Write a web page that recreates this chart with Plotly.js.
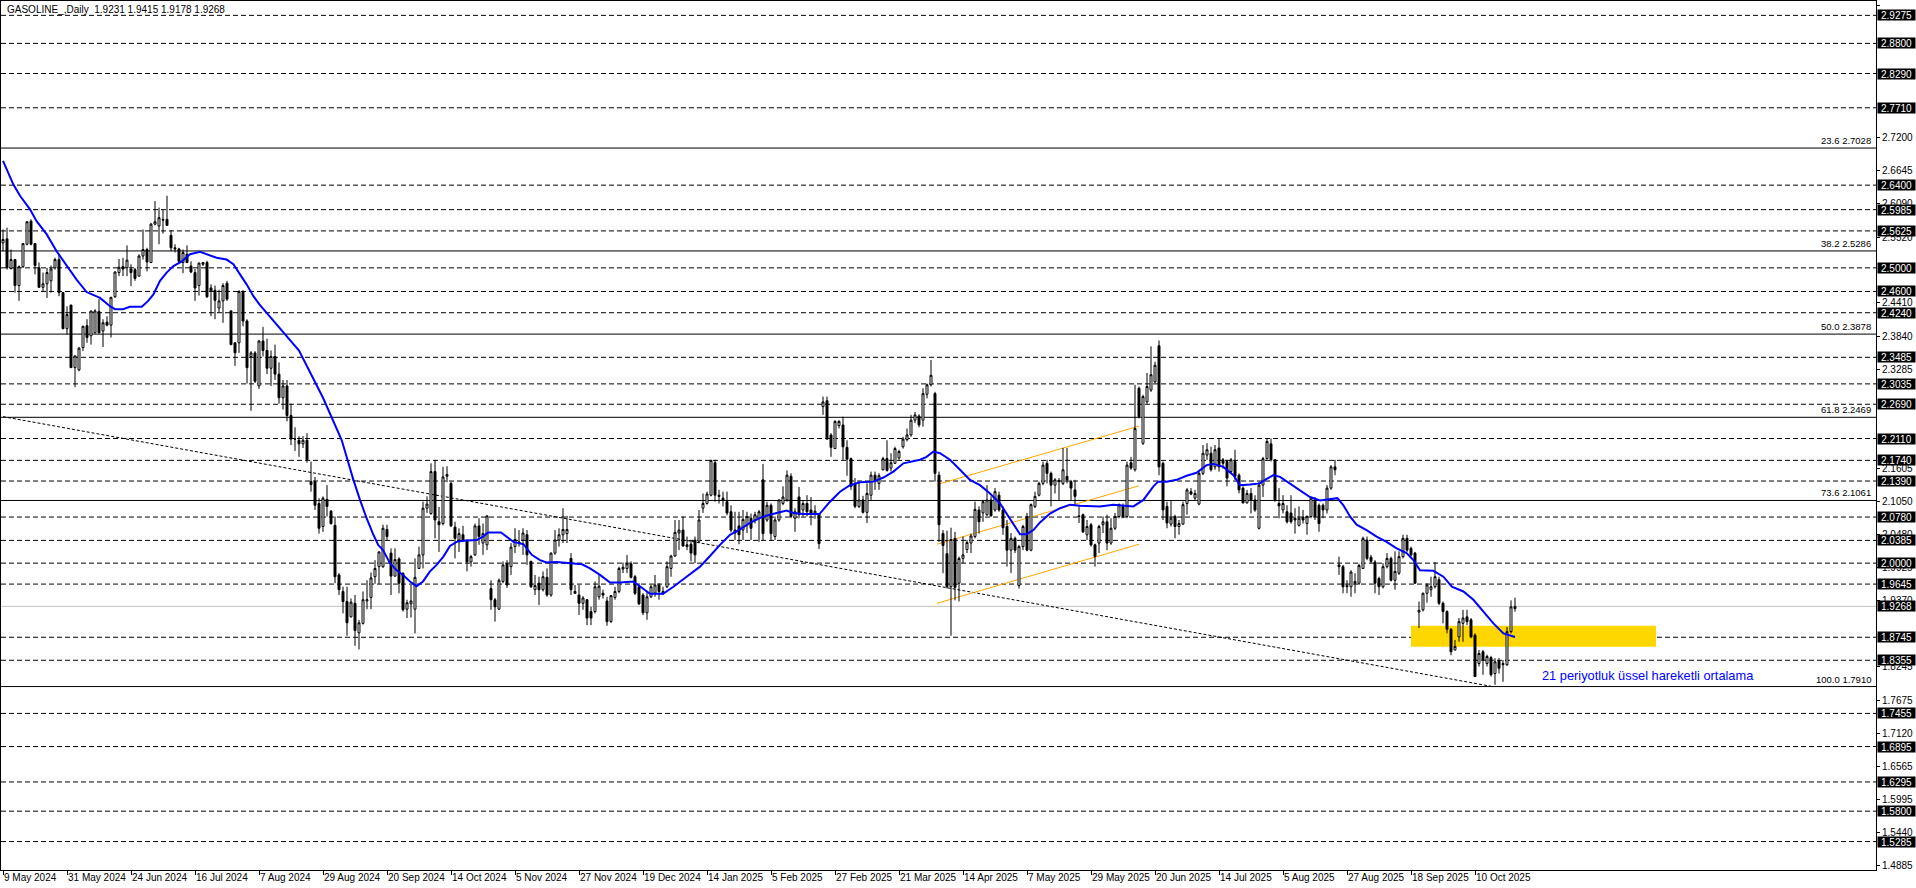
<!DOCTYPE html>
<html><head><meta charset="utf-8">
<script src="https://cdn.plot.ly/plotly-3.0.1.min.js"></script>
<style>html,body{margin:0;padding:0;background:#fff;overflow:hidden}#chart{width:1916px;height:888px}</style>
</head><body><div id="chart"></div>
<script>
const symbolName = "GASOLINE_";
const timeframe = "Daily";

const opens = [
2.542,2.549,2.499,2.514,2.470,2.502,2.540,2.579,2.541,2.500,
2.467,2.473,2.478,2.500,2.514,2.458,2.397,2.437,2.331,2.327,
2.365,2.402,2.385,2.390,2.426,2.393,2.408,2.403,2.451,2.492,
2.502,2.500,2.498,2.497,2.486,2.520,2.531,2.509,2.574,2.571,
2.582,2.582,2.555,2.534,2.532,2.509,2.523,2.503,2.492,2.470,
2.506,2.509,2.466,2.462,2.432,2.444,2.474,2.427,2.373,2.373,
2.460,2.410,2.350,2.356,2.300,2.376,2.360,2.330,2.350,2.320,
2.280,2.300,2.250,2.210,2.208,2.202,2.208,2.138,2.138,2.101,
2.062,2.108,2.088,2.064,1.980,1.952,1.935,1.909,1.932,1.882,
1.898,1.936,1.942,1.977,1.994,1.994,2.057,2.017,1.978,2.007,
1.983,1.922,1.931,1.922,1.991,2.014,2.093,2.084,2.155,2.070,
2.067,2.147,2.135,2.061,2.039,2.048,2.039,2.002,2.014,2.063,
2.034,2.031,1.957,1.938,1.922,1.969,1.999,1.994,2.028,2.036,
2.039,2.048,2.003,1.955,1.966,1.955,1.976,1.946,2.017,2.039,
2.048,2.050,2.008,1.952,1.946,1.932,1.938,1.918,1.918,1.943,
1.949,1.936,1.901,1.942,1.952,1.990,1.991,1.999,1.977,1.960,
1.946,1.916,1.943,1.949,1.963,1.949,1.960,1.991,2.012,2.051,
2.056,2.031,2.032,2.039,2.037,2.093,2.101,2.115,2.170,2.115,
2.110,2.104,2.087,2.051,2.063,2.056,2.065,2.076,2.073,2.076,
2.141,2.073,2.098,2.045,2.073,2.101,2.107,2.147,2.076,2.112,
2.090,2.101,2.090,2.084,2.084,2.265,2.275,2.217,2.194,2.233,
2.234,2.196,2.177,2.134,2.096,2.107,2.086,2.115,2.149,2.135,
2.158,2.177,2.161,2.169,2.178,2.197,2.209,2.217,2.242,2.249,
2.242,2.286,2.302,2.287,2.149,2.050,2.016,1.960,2.042,1.966,
2.008,2.023,2.034,2.045,2.090,2.085,2.082,2.107,2.090,2.115,
2.090,2.062,2.022,2.042,1.962,2.028,2.079,2.022,2.096,2.115,
2.135,2.169,2.152,2.132,2.140,2.135,2.147,2.138,2.124,2.080,
2.082,2.048,2.065,2.031,2.034,2.065,2.070,2.034,2.059,2.079,
2.096,2.079,2.170,2.158,2.296,2.203,2.273,2.293,2.307,2.368,
2.169,2.096,2.066,2.079,2.062,2.066,2.101,2.121,2.110,2.100,
2.152,2.183,2.186,2.163,2.195,2.175,2.172,2.155,2.172,2.149,
2.127,2.102,2.118,2.107,2.059,2.132,2.177,2.202,2.175,2.101,
2.090,2.087,2.085,2.076,2.064,2.078,2.067,2.079,2.107,2.098,
2.098,2.090,2.127,2.163,1.994,1.994,1.962,1.960,1.966,1.966,
1.991,2.039,2.010,2.002,1.974,1.960,1.994,2.008,1.971,1.983,
2.011,2.042,2.025,2.017,1.917,1.921,1.949,1.955,1.960,1.972,
1.932,1.918,1.888,1.853,1.875,1.898,1.909,1.904,1.878,1.830,
1.850,1.830,1.840,1.813,1.835,1.830,1.828,1.884,1.9231];

const highs = [
2.565,2.568,2.531,2.514,2.504,2.542,2.579,2.582,2.542,2.509,
2.492,2.500,2.504,2.517,2.523,2.459,2.435,2.437,2.351,2.366,
2.402,2.413,2.427,2.430,2.447,2.413,2.418,2.451,2.494,2.515,
2.517,2.538,2.506,2.500,2.523,2.565,2.534,2.576,2.613,2.602,
2.598,2.622,2.564,2.540,2.534,2.531,2.538,2.511,2.498,2.509,
2.509,2.512,2.472,2.470,2.463,2.474,2.478,2.428,2.374,2.462,
2.462,2.413,2.359,2.359,2.378,2.400,2.380,2.360,2.370,2.340,
2.310,2.310,2.270,2.230,2.215,2.215,2.220,2.172,2.146,2.110,
2.113,2.132,2.090,2.079,1.983,1.960,1.960,1.940,1.946,1.904,
1.952,1.971,1.984,2.005,2.020,2.065,2.065,2.025,2.025,2.010,
1.984,1.938,1.963,2.008,2.028,2.104,2.113,2.169,2.175,2.095,
2.163,2.164,2.138,2.070,2.059,2.063,2.039,2.014,2.067,2.076,
2.067,2.081,1.971,1.941,1.974,2.003,2.005,2.034,2.059,2.056,
2.059,2.056,2.004,1.980,1.977,1.986,1.991,2.018,2.056,2.059,
2.093,2.080,2.017,1.963,1.963,1.944,1.939,1.926,1.969,1.980,
1.955,1.943,1.946,1.960,1.994,2.001,2.014,2.003,1.980,1.966,
1.949,1.952,1.963,1.980,1.966,1.960,2.003,2.014,2.073,2.073,
2.079,2.045,2.039,2.045,2.090,2.118,2.121,2.175,2.175,2.124,
2.121,2.121,2.098,2.087,2.087,2.090,2.087,2.084,2.087,2.090,
2.168,2.104,2.101,2.079,2.108,2.130,2.157,2.152,2.093,2.129,
2.107,2.115,2.112,2.098,2.084,2.282,2.282,2.220,2.242,2.242,
2.248,2.208,2.179,2.144,2.138,2.114,2.135,2.155,2.155,2.152,
2.180,2.208,2.186,2.197,2.192,2.214,2.228,2.251,2.256,2.252,
2.296,2.304,2.344,2.290,2.155,2.056,2.055,2.060,2.053,2.011,
2.045,2.039,2.050,2.104,2.096,2.107,2.132,2.113,2.127,2.121,
2.096,2.073,2.051,2.045,2.031,2.065,2.085,2.101,2.121,2.138,
2.172,2.175,2.155,2.144,2.144,2.195,2.195,2.141,2.141,2.096,
2.084,2.073,2.068,2.033,2.065,2.079,2.082,2.076,2.085,2.101,
2.101,2.172,2.180,2.302,2.299,2.285,2.322,2.367,2.341,2.377,
2.172,2.104,2.107,2.082,2.073,2.104,2.127,2.127,2.124,2.155,
2.200,2.203,2.197,2.200,2.211,2.178,2.175,2.178,2.192,2.152,
2.130,2.124,2.127,2.115,2.138,2.180,2.211,2.211,2.176,2.127,
2.115,2.098,2.115,2.093,2.096,2.090,2.081,2.112,2.112,2.101,
2.101,2.132,2.166,2.175,2.011,1.997,1.971,1.988,1.983,1.999,
2.045,2.045,2.014,2.005,1.977,2.000,2.017,2.011,2.020,2.020,
2.048,2.048,2.028,2.019,1.935,1.950,1.966,1.977,2.002,1.977,
1.935,1.920,1.890,1.870,1.907,1.921,1.921,1.907,1.881,1.853,
1.853,1.845,1.843,1.839,1.839,1.836,1.892,1.937,1.9415];

const lows = [
2.528,2.497,2.497,2.458,2.444,2.500,2.538,2.538,2.489,2.467,
2.460,2.449,2.458,2.497,2.452,2.396,2.387,2.331,2.298,2.325,
2.359,2.373,2.370,2.389,2.389,2.366,2.401,2.382,2.449,2.486,
2.486,2.486,2.469,2.478,2.485,2.514,2.494,2.508,2.572,2.540,
2.558,2.571,2.528,2.526,2.508,2.491,2.508,2.491,2.444,2.453,
2.503,2.449,2.418,2.413,2.424,2.407,2.444,2.369,2.334,2.356,
2.401,2.304,2.258,2.305,2.295,2.350,2.320,2.300,2.310,2.270,
2.260,2.240,2.200,2.190,2.180,2.195,2.170,2.121,2.090,2.050,
2.053,2.079,2.065,1.966,1.946,1.915,1.877,1.908,1.860,1.854,
1.896,1.922,1.922,1.965,1.965,1.992,2.039,1.946,1.977,1.949,
1.918,1.907,1.908,1.881,1.990,1.991,2.085,2.082,2.042,2.019,
2.064,2.137,2.061,2.008,2.019,2.036,1.986,1.994,2.012,2.031,
2.014,2.022,1.921,1.901,1.921,1.966,1.958,1.980,2.017,2.028,
2.014,1.997,1.958,1.946,1.929,1.952,1.943,1.943,2.014,2.028,
2.034,2.034,1.946,1.948,1.912,1.921,1.895,1.895,1.915,1.938,
1.940,1.894,1.899,1.938,1.949,1.983,1.983,1.974,1.946,1.929,
1.912,1.904,1.941,1.943,1.938,1.946,1.958,1.977,2.011,2.022,
2.028,2.022,2.003,2.000,2.034,2.085,2.099,2.113,2.104,2.101,
2.096,2.081,2.052,2.039,2.032,2.039,2.051,2.039,2.067,2.036,
2.039,2.070,2.039,2.039,2.070,2.098,2.104,2.076,2.053,2.076,
2.079,2.079,2.064,2.075,2.024,2.251,2.209,2.180,2.193,2.228,
2.175,2.148,2.124,2.093,2.093,2.084,2.068,2.107,2.124,2.124,
2.157,2.155,2.155,2.168,2.175,2.194,2.206,2.214,2.237,2.230,
2.231,2.279,2.299,2.138,2.036,1.983,1.957,1.877,1.937,1.935,
2.000,2.017,2.017,2.042,2.050,2.070,2.080,2.079,2.087,2.087,
2.048,1.994,1.983,2.017,1.957,2.022,2.020,2.020,2.093,2.113,
2.132,2.135,2.096,2.118,2.107,2.132,2.135,2.107,2.099,2.068,
2.051,2.039,2.028,1.994,2.017,2.051,2.022,2.031,2.056,2.076,
2.076,2.076,2.158,2.155,2.245,2.200,2.270,2.290,2.305,2.149,
2.073,2.059,2.062,2.042,2.048,2.065,2.082,2.115,2.107,2.098,
2.149,2.175,2.155,2.158,2.155,2.160,2.130,2.152,2.141,2.118,
2.101,2.101,2.084,2.087,2.057,2.112,2.175,2.172,2.104,2.076,
2.084,2.067,2.067,2.050,2.062,2.067,2.048,2.076,2.073,2.053,
2.076,2.084,2.124,2.149,1.980,1.949,1.949,1.943,1.949,1.963,
1.990,2.005,2.000,1.949,1.946,1.957,1.991,1.969,1.955,1.980,
2.008,2.019,2.011,1.965,1.890,1.918,1.933,1.943,1.957,1.929,
1.898,1.881,1.844,1.852,1.867,1.867,1.895,1.873,1.807,1.825,
1.811,1.825,1.808,1.794,1.813,1.799,1.826,1.881,1.9178];

const closes = [
2.548,2.500,2.514,2.470,2.502,2.541,2.578,2.540,2.504,2.467,
2.473,2.492,2.498,2.514,2.458,2.397,2.421,2.331,2.351,2.364,
2.401,2.382,2.427,2.427,2.390,2.407,2.403,2.450,2.493,2.501,
2.498,2.513,2.492,2.482,2.520,2.531,2.510,2.574,2.578,2.585,
2.581,2.572,2.534,2.532,2.511,2.526,2.509,2.493,2.466,2.508,
2.509,2.451,2.461,2.445,2.444,2.470,2.447,2.370,2.356,2.460,
2.410,2.331,2.356,2.308,2.376,2.360,2.330,2.350,2.320,2.280,
2.300,2.250,2.210,2.210,2.202,2.208,2.175,2.133,2.098,2.059,
2.110,2.096,2.067,1.977,1.955,1.935,1.899,1.934,1.886,1.899,
1.938,1.938,1.975,1.991,2.019,2.059,2.045,1.978,2.006,1.966,
1.921,1.933,1.936,1.976,2.014,2.093,2.100,2.155,2.073,2.065,
2.146,2.150,2.063,2.042,2.050,2.039,2.002,2.011,2.063,2.045,
2.050,2.080,1.938,1.926,1.971,1.997,1.963,2.027,2.040,2.034,
2.051,2.014,1.960,1.962,1.955,1.977,1.946,2.017,2.039,2.048,
2.057,2.057,1.955,1.949,1.932,1.941,1.907,1.907,1.960,1.961,
1.946,1.901,1.945,1.952,1.991,1.993,1.999,1.976,1.949,1.931,
1.916,1.943,1.960,1.963,1.952,1.952,1.994,2.012,2.052,2.056,
2.029,2.028,2.017,2.014,2.073,2.101,2.117,2.174,2.115,2.113,
2.107,2.085,2.056,2.056,2.048,2.074,2.079,2.059,2.082,2.087,
2.050,2.098,2.050,2.073,2.107,2.112,2.149,2.079,2.087,2.082,
2.101,2.087,2.084,2.088,2.033,2.273,2.210,2.196,2.240,2.240,
2.197,2.176,2.130,2.096,2.107,2.086,2.118,2.149,2.141,2.148,
2.177,2.157,2.170,2.194,2.189,2.210,2.217,2.242,2.251,2.234,
2.287,2.302,2.318,2.152,2.065,2.030,1.960,2.040,1.959,2.008,
2.014,2.035,2.046,2.091,2.070,2.104,2.107,2.080,2.121,2.090,
2.060,2.022,2.042,2.022,2.028,2.062,2.022,2.099,2.113,2.135,
2.166,2.152,2.132,2.141,2.138,2.158,2.141,2.127,2.113,2.079,
2.053,2.062,2.031,2.011,2.062,2.070,2.034,2.059,2.079,2.099,
2.079,2.166,2.161,2.228,2.248,2.282,2.299,2.319,2.335,2.163,
2.090,2.068,2.076,2.062,2.067,2.099,2.124,2.117,2.118,2.152,
2.186,2.192,2.158,2.192,2.163,2.169,2.144,2.175,2.147,2.124,
2.102,2.118,2.107,2.090,2.132,2.177,2.206,2.175,2.107,2.097,
2.101,2.070,2.070,2.073,2.076,2.073,2.079,2.110,2.079,2.067,
2.090,2.127,2.163,2.158,1.997,1.960,1.960,1.985,1.969,1.996,
2.042,2.008,2.003,1.966,1.960,1.994,2.008,1.971,1.986,2.011,
2.042,2.022,2.014,1.966,1.920,1.949,1.963,1.960,1.977,1.932,
1.918,1.888,1.850,1.859,1.901,1.907,1.901,1.875,1.808,1.847,
1.836,1.842,1.811,1.833,1.822,1.828,1.884,1.926,1.9268];

// 21-period EMA, values (bar position, price)
const emaBars = [0,2.6,4.25,6.75,8.4,10.9,13.4,15.9,18.4,20.9,24.25,26.75,28,30,31.75,34.7,36.3,37.6,39.25,40.9,
42.6,44.7,46.75,49.25,50.9,53.4,55.9,57.6,59.25,60.9,62.6,64.1,74,80,84.67,85.9,87.6,89.25,90.9,92.6,
93.8,95,96.75,98.4,100,101.75,103.4,105,106.75,108.4,110.1,111.75,113.4,115.1,118.4,120,121.3,124.5,126.3,127.6,
130.1,132.2,134.25,135.9,138.4,142.2,144.75,146.75,149.25,151.75,154.25,157.6,159.25,161.75,165,167.6,170.9,174.25,176.75,179.25,
181.75,184.25,186.75,189.25,190.1,193.4,195.9,197.6,200.1,204.1,206.75,209.25,211.75,214.25,217.6,220.1,222.6,225.1,229.25,230.9,
232.6,234.25,236.75,239.25,241.75,244.25,246.75,249.25,250.9,252.6,254.25,255.9,257.6,259.25,261.75,264.25,266.75,269.25,274.25,277.6,
282.6,285.1,287.6,288.8,290.9,293.4,295.9,298.4,300.9,302.6,305.1,307.6,309.25,311.75,314.25,315.5,317.6,319.25,321.75,324.25,
326.75,329.25,331.75,333.6,335.1,336.75,338.4,340.9,343.4,345.9,348.4,350.9,352.6,354.25,357.6,360.1,362.2,365.1,367.6,370.1,
372.6,375.1,377.6,378];
const emaValues = [2.681,2.641,2.622,2.599,2.579,2.557,2.528,2.503,2.480,2.459,2.449,2.435,2.430,2.430,2.434,2.434,2.444,2.455,2.478,2.492,
2.503,2.511,2.523,2.527,2.523,2.517,2.514,2.506,2.489,2.472,2.452,2.438,2.360,2.280,2.2085,2.180,2.141,2.107,2.076,2.048,
2.031,2.022,2.000,1.988,1.980,1.969,1.961,1.969,1.986,1.997,2.011,2.029,2.036,2.038,2.039,2.045,2.052,2.052,2.042,2.036,
2.032,2.014,2.005,2.001,2.002,2.000,1.998,1.991,1.980,1.967,1.967,1.969,1.960,1.948,1.948,1.960,1.977,1.994,2.012,2.031,
2.048,2.057,2.068,2.076,2.079,2.085,2.089,2.085,2.083,2.083,2.104,2.121,2.132,2.137,2.138,2.145,2.155,2.169,2.175,2.180,
2.189,2.186,2.175,2.158,2.141,2.132,2.118,2.101,2.084,2.065,2.049,2.049,2.056,2.069,2.084,2.093,2.099,2.097,2.096,2.099,
2.096,2.107,2.130,2.138,2.138,2.141,2.148,2.153,2.166,2.168,2.163,2.149,2.132,2.133,2.135,2.141,2.149,2.146,2.135,2.124,
2.112,2.106,2.108,2.110,2.098,2.079,2.065,2.056,2.045,2.036,2.025,2.017,2.005,1.988,1.987,1.977,1.960,1.952,1.938,1.918,
1.898,1.881,1.875,1.875];

// x-axis date labels, one every 16 daily bars
const dateLabels = ["9 May 2024","31 May 2024","24 Jun 2024","16 Jul 2024","7 Aug 2024","29 Aug 2024",
"20 Sep 2024","14 Oct 2024","5 Nov 2024","27 Nov 2024","19 Dec 2024","14 Jan 2025","5 Feb 2025",
"27 Feb 2025","21 Mar 2025","14 Apr 2025","7 May 2025","29 May 2025","20 Jun 2025","14 Jul 2025",
"5 Aug 2025","27 Aug 2025","18 Sep 2025","10 Oct 2025"];
const barsPerLabel = 16;

// price-axis scale ticks (those not hidden behind level labels)
const priceTicks = [2.9450,2.7200,2.6645,2.6090,2.5520,2.4410,2.3840,2.3285,2.1605,2.1050,2.0480,1.9925,1.9370,
1.8245,1.7675,1.7120,1.6565,1.5995,1.5440,1.4885];

// horizontal dashed levels (labelled on the price axis)
const hLevels = [2.9275,2.8800,2.8290,2.7710,2.6400,2.5985,2.5625,2.5000,2.4600,2.4240,2.3485,2.3035,
2.2690,2.2110,2.1740,2.1390,2.0780,2.0385,2.0000,1.9645,1.8745,1.8355,1.7455,1.6895,1.6295,1.5800,1.5285];

// Fibonacci levels
const fibRatios = [23.6,38.2,50.0,61.8,73.6,100.0];
const fibPrices = [2.7028,2.5286,2.3878,2.2469,2.1061,1.7910];

// drawn objects (bar index, price)
const trendLine = {x:[0,372], y:[2.248,1.7915]};
const channelStart = 233.5, channelEnd = 284;
const channelStartY = [2.133,2.032,1.932];
const channelEndY = [2.232,2.131,2.032];
const zoneX = [352,413.25], zoneY = [1.8585,1.894];
const emaNote = "21 periyotluk üssel hareketli ortalama";

// ---------------------------------------------
const FONT = "Liberation Sans, Arial, sans-serif";
const n = closes.length;
const bars = closes.map((_, i) => i);
const last = n - 1;
const currentPrice = closes[last];

const shapes = [];
shapes.push({type:'rect', xref:'x', yref:'y', x0:zoneX[0], x1:zoneX[1], y0:zoneY[0], y1:zoneY[1],
  fillcolor:'#FFD700', line:{width:0}, layer:'below'});
hLevels.forEach(v => shapes.push({type:'line', xref:'paper', x0:0, x1:1, yref:'y', y0:v, y1:v,
  line:{color:'#000', width:1, dash:'5px,3px'}, layer:'below'}));
fibPrices.forEach(v => shapes.push({type:'line', xref:'paper', x0:0, x1:1, yref:'y', y0:v, y1:v,
  line:{color:'#000', width:1}, layer:'below'}));
shapes.push({type:'line', xref:'paper', x0:0, x1:1, yref:'y', y0:currentPrice, y1:currentPrice,
  line:{color:'#C0C0C0', width:1}, layer:'below'});
shapes.push({type:'line', xref:'x', yref:'y', x0:trendLine.x[0], x1:trendLine.x[1], y0:trendLine.y[0], y1:trendLine.y[1],
  line:{color:'#000', width:1, dash:'3px,2px'}, layer:'below'});
channelStartY.forEach((y0, j) => shapes.push({type:'line', xref:'x', yref:'y', x0:channelStart, x1:channelEnd,
  y0:y0, y1:channelEndY[j], line:{color:'#FFA500', width:1}, layer:'below'}));

const annotations = [];
annotations.push({xref:'paper', yref:'paper', x:0, y:1, xanchor:'left', yanchor:'top', xshift:4, yshift:-1,
  showarrow:false, text:`${symbolName},${timeframe}\u00a0\u00a0${opens[last].toFixed(4)} ${highs[last].toFixed(4)} ${lows[last].toFixed(4)} ${closes[last].toFixed(4)}`,
  font:{family:FONT, size:10, color:'#000'}});
hLevels.concat([currentPrice]).forEach(v => annotations.push({xref:'paper', x:1, xanchor:'left', xshift:1,
  yref:'y', y:v, yanchor:'middle', showarrow:false, text:v.toFixed(4), bgcolor:'#000', borderpad:0,
  width:37, height:10, align:'center', font:{family:FONT, size:10, color:'#fff'}}));
fibPrices.forEach((v, j) => annotations.push({xref:'paper', x:1, xanchor:'right', xshift:-3, yref:'y', y:v,
  yanchor:'bottom', showarrow:false, text:`${fibRatios[j].toFixed(1)} ${v.toFixed(4)}`,
  font:{family:FONT, size:9.5, color:'#000'}}));
dateLabels.forEach((t, i) => annotations.push({xref:'x', x:i*barsPerLabel, xanchor:'left', xshift:0,
  yref:'paper', y:0, yanchor:'top', yshift:-1, showarrow:false, text:t, borderpad:0,
  font:{family:FONT, size:10, color:'#000'}}));
annotations.push({xref:'x', yref:'y', x:384.25, y:1.809, xanchor:'left', yanchor:'middle', showarrow:false,
  text:emaNote, font:{family:FONT, size:12.8, color:'#0000FF'}});

const traces = [
  {type:'candlestick', x:bars, open:opens, high:highs, low:lows, close:closes,
   increasing:{line:{color:'#000', width:1}, fillcolor:'#fff'},
   decreasing:{line:{color:'#000', width:1}, fillcolor:'#000'},
   whiskerwidth:0, hoverinfo:'skip', showlegend:false},
  {type:'scatter', mode:'lines', x:emaBars, y:emaValues, line:{color:'#0000FF', width:2}, hoverinfo:'skip', showlegend:false}
];

const layout = {
  width:1916, height:888,
  margin:{l:1, r:40, t:1, b:18},
  paper_bgcolor:'#fff', plot_bgcolor:'#fff', showlegend:false,
  font:{family:FONT, size:10, color:'#000'},
  xaxis:{range:[-0.5,468.25], showgrid:false, zeroline:false, showline:true, linecolor:'#000', linewidth:1, mirror:true,
    ticks:'outside', ticklen:4, tickcolor:'#000', tickvals:dateLabels.map((_, i) => i*barsPerLabel),
    showticklabels:false, rangeslider:{visible:false}, fixedrange:true},
  yaxis:{side:'right', range:[1.4804,2.9518], showgrid:false, zeroline:false, showline:true, linecolor:'#000', linewidth:1, mirror:true,
    ticks:'outside', ticklen:3, tickcolor:'#000', tickvals:priceTicks, ticktext:priceTicks.map(v => v.toFixed(4)),
    tickfont:{family:FONT, size:10, color:'#000'}, fixedrange:true},
  shapes:shapes, annotations:annotations
};

Plotly.newPlot('chart', traces, layout, {staticPlot:true, displayModeBar:false});
</script>
</body></html>
